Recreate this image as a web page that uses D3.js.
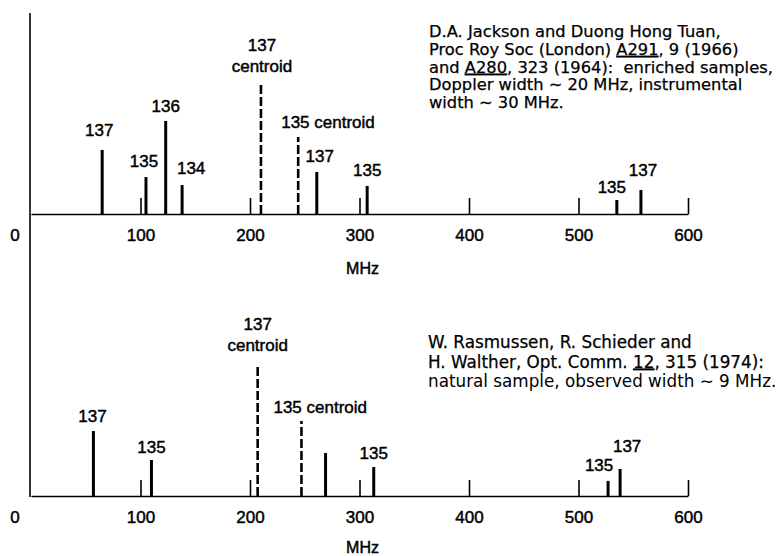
<!DOCTYPE html>
<html>
<head>
    <meta charset="utf-8">
    <script src="https://d3js.org/d3.v7.min.js"></script>
    <style>
        body {
            margin: 0;
            background: #fff;
        }

        svg text {
            font-family: "Liberation Sans", Arial, sans-serif;
            fill: #000;
            stroke: #000;
            stroke-width: 0.45px;
        }

        .axis path,
        .axis line {
            stroke: #000;
            stroke-width: 1.6px;
        }

        .peak {
            stroke: #000;
            stroke-width: 3px;
        }

        .peak.dashed {
            stroke-width: 2.6px;
            stroke-dasharray: 9, 3;
        }

        .ref text {
            font-family: "DejaVu Sans", sans-serif;
            stroke-width: 0.25px;
        }

        .ref text.light {
            stroke-width: 0;
        }
    </style>
</head>

<body>
    <svg width="778" height="556"></svg>
    <script>
        // ---- data ----
        var tickValues = [100, 200, 300, 400, 500, 600];

        // upper panel: Jackson & Duong Hong Tuan
        var topFreq = [65, 105, 123, 138, 210, 244, 261, 307, 535, 557];
        var topHeight = [48.9, 28.2, 71, 22.1, 100, 58.8, 32.1, 21.4, 10.7, 18.3];
        var topLabel = ["137", "135", "136", "134", "137|centroid", "135 centroid", "137", "135", "135", "137"];
        var topDashed = [false, false, false, false, true, true, false, false, false, false];

        // lower panel: Rasmussen, Schieder & Walther
        var botFreq = [57, 110, 207, 247, 269, 313, 527, 538];
        var botHeight = [49.6, 27.5, 100, 57.3, 32.8, 22.1, 11.5, 20.6];
        var botLabel = ["137", "135", "137|centroid", "135 centroid", "", "135", "135", "137"];
        var botDashed = [false, false, true, true, false, false, false, false];

        var topRef = [
            ["D.A. Jackson and Duong Hong Tuan,"],
            ["Proc Roy Soc (London) ", "_A291", ", 9 (1966)"],
            ["and ", "_A280", ", 323 (1964):  enriched samples,"],
            ["Doppler width \u223C 20 MHz, instrumental"],
            ["width \u223C 30 MHz."]
        ];
        var botRef = [
            ["W. Rasmussen, R. Schieder and"],
            ["H. Walther, Opt. Comm. ", "_12", ", 315 (1974):"],
            ["natural sample, observed width \u223C 9 MHz."]
        ];

        // label nudges [dx, dy above peak top]
        var topNudge = [[-3, 14], [-2, 10], [0, 9], [9, 11], [1, 11], [-17, 9], [3, 10], [0, 10], [-5, 7], [2, 14]];
        var botNudge = [[-1, 9], [0, 7], [0, 14], [-28, 8], [0, 0], [0, 8], [-9, 10], [7, 17]];

        var svg = d3.select("svg");

        var x = d3.scaleLinear().domain([0, 600]).range([31, 688]);

        // left vertical line shared by both panels
        svg.append("line")
            .attr("x1", x(0) - 1).attr("x2", x(0) - 1)
            .attr("y1", 13).attr("y2", 497)
            .attr("stroke", "#000")
            .attr("stroke-width", 1.6);

        function panel(base, freq, height, label, dashed, nudge, mhzY) {
            var y = d3.scaleLinear().domain([0, 100]).range([base, base - 131]);
            var g = svg.append("g");

            var axis = d3.axisBottom(x)
                .tickValues(tickValues)
                .tickSizeInner(-16)
                .tickSizeOuter(0)
                .tickPadding(15)
                .tickFormat(d3.format("d"));

            var ax = g.append("g")
                .attr("class", "axis")
                .attr("transform", "translate(0," + base + ")")
                .call(axis);
            ax.selectAll("text")
                .attr("fill", "#000")
                .style("font-size", "17px");

            g.append("text")
                .attr("x", x(0) - 16)
                .attr("y", base + 27)
                .attr("text-anchor", "middle")
                .style("font-size", "17px")
                .text("0");

            g.append("text")
                .attr("x", x(300) + 3)
                .attr("y", mhzY)
                .attr("text-anchor", "middle")
                .style("font-size", "16px")
                .text("MHz");

            var data = freq.map(function (f, i) {
                return { f: f, h: height[i], label: label[i], dashed: dashed[i], n: nudge[i] };
            });

            g.selectAll(".peak")
                .data(data)
                .enter().append("line")
                .attr("class", function (d) { return d.dashed ? "peak dashed" : "peak"; })
                .attr("x1", function (d) { return x(d.f); })
                .attr("x2", function (d) { return x(d.f); })
                .attr("y1", y(0))
                .attr("y2", function (d) { return y(d.h); });

            var lab = g.selectAll(".lab")
                .data(data.filter(function (d) { return d.label; }))
                .enter().append("text")
                .attr("class", "lab")
                .style("font-size", "17px")
                .attr("text-anchor", function (d) { return d.label.indexOf(" ") > 0 ? "start" : "middle"; })
                .attr("x", function (d) { return x(d.f) + d.n[0]; })
                .attr("y", function (d) { return y(d.h) - d.n[1]; });

            lab.each(function (d) {
                var parts = d.label.split("|");
                var t = d3.select(this);
                if (parts.length === 1) {
                    t.text(parts[0]);
                } else {
                    t.append("tspan").attr("x", x(d.f) + d.n[0]).attr("dy", -21).text(parts[0]);
                    t.append("tspan").attr("x", x(d.f) + d.n[0]).attr("dy", 21).text(parts[1]);
                }
            });
        }

        function refBlock(lines, x0, y0, step, size, lightLast) {
            var g = svg.append("g").attr("class", "ref");
            lines.forEach(function (parts, i) {
                var t = g.append("text")
                    .attr("x", x0)
                    .attr("y", y0 + i * step)
                    .style("font-size", size + "px")
                    .attr("xml:space", "preserve")
                    .classed("light", lightLast && i === lines.length - 1);
                parts.forEach(function (p) {
                    var u = p.charAt(0) === "_";
                    t.append("tspan")
                        .style("text-decoration", u ? "underline" : null)
                        .text(u ? p.slice(1) : p);
                });
            });
        }

        panel(214, topFreq, topHeight, topLabel, topDashed, topNudge, 274);
        panel(496, botFreq, botHeight, botLabel, botDashed, botNudge, 553);

        refBlock(topRef, 429, 37, 17.8, 16.3, false);
        refBlock(botRef, 428, 348, 19.5, 16.8, true);
    </script>
</body>
</html>
